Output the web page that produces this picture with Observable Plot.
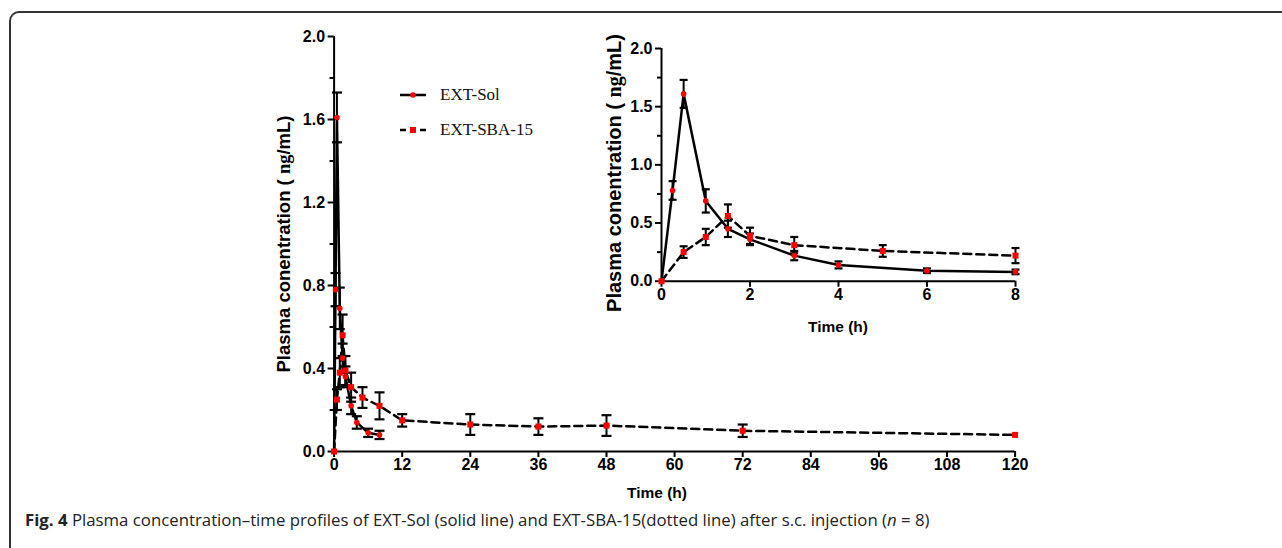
<!DOCTYPE html>
<html><head><meta charset="utf-8">
<script src="https://cdn.jsdelivr.net/npm/d3@7"></script>
<script src="https://cdn.jsdelivr.net/npm/@observablehq/plot@0.6"></script>
<style>
body{margin:0;background:#fff;}
#wrap{position:relative;width:1282px;height:548px;overflow:hidden;background:#fff;}
#frame{position:absolute;left:9px;top:11px;width:1400px;height:700px;border-left:2px solid #333;border-top:2px solid #333;border-top-left-radius:10px;}
.layer{position:absolute;left:0;top:0;}
.leg{position:absolute;left:398px;font-family:"Liberation Serif","Times New Roman",serif;font-size:17px;color:#111;display:flex;align-items:center;white-space:nowrap;}
.leg svg{margin-right:12px;}
#caption{position:absolute;left:25px;top:508px;font-family:"Open Sans","Noto Sans",sans-serif;font-size:16.8px;color:#222;white-space:nowrap;}
</style></head>
<body>
<div id="wrap">
  <div id="frame"></div>
  <div id="main" class="layer"></div>
  <div id="inset" class="layer"></div>
  <div class="leg" style="top:85px"><svg width="30" height="20"><line x1="2" x2="28" y1="10" y2="10" stroke="#000" stroke-width="2.5"/><circle cx="15" cy="10" r="2.8" fill="red"/></svg>EXT-Sol</div>
  <div class="leg" style="top:120px"><svg width="30" height="20"><line x1="2" x2="28" y1="10" y2="10" stroke="#000" stroke-width="2.5" stroke-dasharray="6,4"/><rect x="12" y="7" width="6" height="6" fill="red"/></svg>EXT-SBA-15</div>
  <div id="caption"><b>Fig. 4</b> Plasma concentration–time profiles of EXT-Sol (solid line) and EXT-SBA-15(dotted line) after s.c. injection (<i>n</i> = 8)</div>
</div>
<script>
// ---- data ----
const solTime = [0, 0.25, 0.5, 1, 1.5, 2, 3, 4, 6, 8];
const solMean = [0, 0.78, 1.61, 0.69, 0.45, 0.36, 0.22, 0.14, 0.09, 0.08];
const solSD   = [0, 0.08, 0.12, 0.10, 0.07, 0.05, 0.04, 0.03, 0.02, 0.02];
const sbaTime = [0, 0.5, 1, 1.5, 2, 3, 5, 8, 12, 24, 36, 48, 72, 120];
const sbaMean = [0, 0.25, 0.38, 0.56, 0.39, 0.31, 0.26, 0.22, 0.15, 0.13, 0.12, 0.125, 0.10, 0.08];
const sbaSD   = [0, 0.05, 0.07, 0.10, 0.07, 0.07, 0.05, 0.065, 0.03, 0.05, 0.04, 0.05, 0.03, 0];
const mainXTicks = [0, 12, 24, 36, 48, 60, 72, 84, 96, 108, 120];
const mainYTicks = [0, 0.4, 0.8, 1.2, 1.6, 2.0];
const mainYMinor = [0.2, 0.6, 1.0, 1.4, 1.8];
const insetXTicks = [0, 2, 4, 6, 8];
const insetYTicks = [0, 0.5, 1.0, 1.5, 2.0];
const insetYMinor = [0.25, 0.75, 1.25, 1.75];
const yLabelParts = ["Plasma conentration ( ", "ng", "/mL)"];
const xLabel = "Time (h)";

const sol = solTime.map((t, i) => ({t, m: solMean[i], sd: solSD[i]}));
const sba = sbaTime.map((t, i) => ({t, m: sbaMean[i], sd: sbaSD[i]}));

const cap = {draw(ctx, size) { const w = Math.sqrt(size / Math.PI); ctx.moveTo(-w, 0); ctx.lineTo(w, 0); }};
const W = 1282, H = 548;
const FF = "'Liberation Sans', Arial, sans-serif";
const font = {fontFamily: FF, fontSize: "16px", fontWeight: "bold", color: "#000", background: "transparent", overflow: "visible"};
const axText = {fontSize: 16, fontWeight: "bold", fontFamily: FF, fill: "#000"};

function marks(solD, sbaD, xt, yt, ymin, xmax, capR) {
  const err = d => d.sd > 0;
  return [
    Plot.ruleY([0], {x1: 0, x2: xmax, stroke: "#000", strokeWidth: 2}),
    Plot.ruleX([0], {y1: 0, y2: 2, stroke: "#000", strokeWidth: 2}),
    Plot.axisX({ticks: xt, tickSize: 6, tickPadding: 1, strokeWidth: 2, label: null, tickFormat: d3.format("d"), ...axText}),
    Plot.axisY({ticks: yt, tickSize: 6, tickPadding: 3, strokeWidth: 2, label: null, tickFormat: d3.format(".1f"), ...axText}),
    Plot.axisY({ticks: ymin, tickSize: 4, strokeWidth: 2, label: null, tickFormat: () => ""}),
    Plot.ruleX(solD.filter(err), {x: "t", y1: d => d.m - d.sd, y2: d => d.m + d.sd, stroke: "#000", strokeWidth: 2}),
    Plot.dot(solD.filter(err), {x: "t", y: d => d.m + d.sd, symbol: cap, r: capR, stroke: "#000", strokeWidth: 2.2}),
    Plot.dot(solD.filter(err), {x: "t", y: d => d.m - d.sd, symbol: cap, r: capR, stroke: "#000", strokeWidth: 2.2}),
    Plot.ruleX(sbaD.filter(err), {x: "t", y1: d => d.m - d.sd, y2: d => d.m + d.sd, stroke: "#000", strokeWidth: 2}),
    Plot.dot(sbaD.filter(err), {x: "t", y: d => d.m + d.sd, symbol: cap, r: capR, stroke: "#000", strokeWidth: 2.2}),
    Plot.dot(sbaD.filter(err), {x: "t", y: d => d.m - d.sd, symbol: cap, r: capR, stroke: "#000", strokeWidth: 2.2}),
    Plot.line(solD, {x: "t", y: "m", stroke: "#000", strokeWidth: 2.5}),
    Plot.line(sbaD, {x: "t", y: "m", stroke: "#000", strokeWidth: 2.5, strokeDasharray: "8,5"}),
    Plot.dot(solD, {x: "t", y: "m", r: 2.8, fill: "red", stroke: "none"}),
    Plot.dot(sbaD, {x: "t", y: "m", symbol: "square", r: 3.4, fill: "red", stroke: "none"})
  ];
}

// main chart
const main = Plot.plot({
  width: W, height: H,
  marginLeft: 333.6, marginRight: W - 1014.6, marginTop: 36, marginBottom: H - 451,
  x: {domain: [0, 120]}, y: {domain: [0, 2]},
  style: font,
  marks: marks(sol, sba, mainXTicks, mainYTicks, mainYMinor, 120, 5)
});
document.getElementById("main").appendChild(main);

// inset chart
const insetSol = sol.filter(d => d.t <= 8);
const insetSba = sba.filter(d => d.t <= 8);
const inset = Plot.plot({
  width: W, height: H,
  marginLeft: 661, marginRight: W - 1015, marginTop: 48, marginBottom: H - 280.7,
  x: {domain: [0, 8]}, y: {domain: [0, 2]},
  style: font,
  marks: marks(insetSol, insetSba, insetXTicks, insetYTicks, insetYMinor, 8, 4)
});
document.getElementById("inset").appendChild(inset);

function addLabels(svg, xl, yl) {
  const s = d3.select(svg);
  s.append("text").attr("x", xl.x).attr("y", xl.y).attr("text-anchor", "middle")
    .attr("font-family", FF).attr("font-weight", "bold")
    .attr("font-size", xl.size).attr("fill", "#000").text(xLabel);
  const t = s.append("text").attr("transform", `translate(${yl.x},${yl.y}) rotate(-90)`)
    .attr("text-anchor", "middle").attr("font-family", FF)
    .attr("font-weight", "bold").attr("font-size", yl.size).attr("fill", "#000");
  t.append("tspan").text(yLabelParts[0]);
  t.append("tspan").attr("font-family", "'Liberation Serif', serif").text(yLabelParts[1]);
  t.append("tspan").text(yLabelParts[2]);
}
addLabels(main, {x: 657, y: 498, size: 15.5}, {x: 290, y: 244, size: 18.5});
addLabels(inset, {x: 838, y: 332, size: 15.5}, {x: 621, y: 173, size: 20});
</script>
</body></html>
